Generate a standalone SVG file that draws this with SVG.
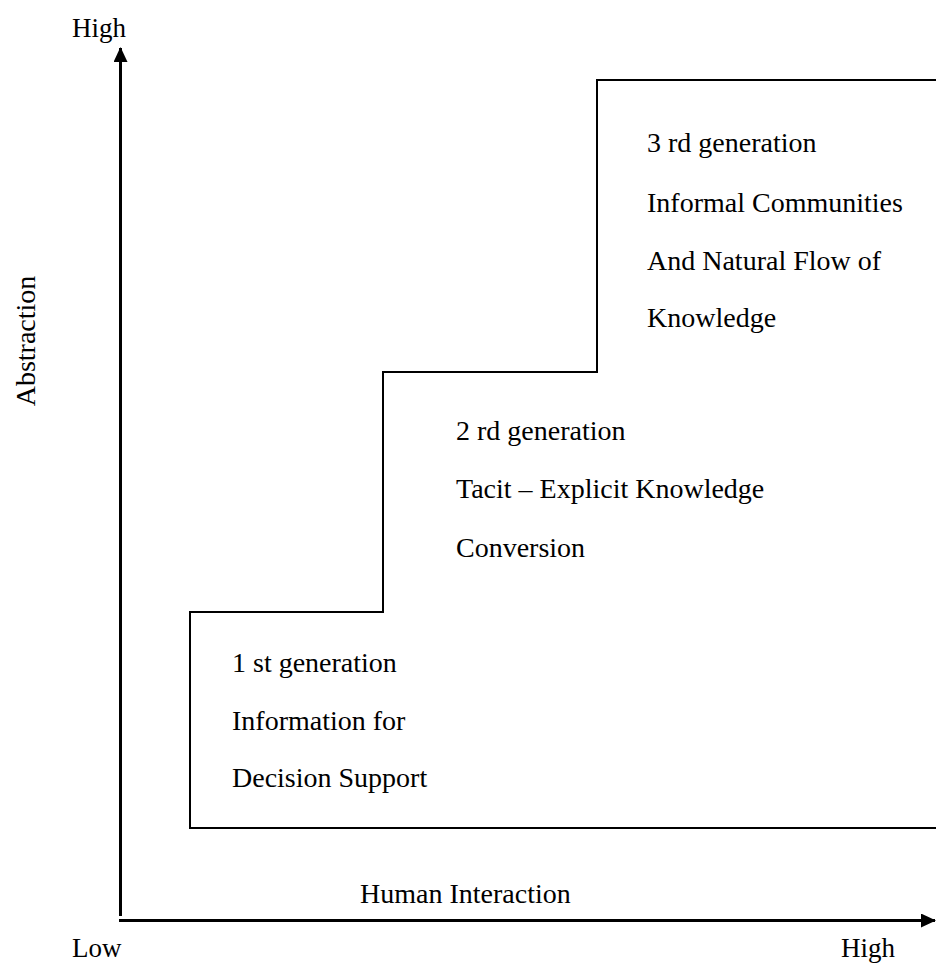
<svg xmlns="http://www.w3.org/2000/svg" width="942" height="965" viewBox="0 0 942 965">
  <style>
    text { font-family: "Liberation Serif", "Times New Roman", serif; font-size: 28px; fill: #000; }
    .axis-label { font-size: 27px; }
    .axis { stroke: #000; stroke-width: 3; fill: none; }
    .stair { stroke: #000; stroke-width: 2; fill: none; }
  </style>
  <defs>
    <marker id="arrow" viewBox="0 0 15 14" refX="14" refY="7" markerWidth="15" markerHeight="14" markerUnits="userSpaceOnUse" orient="auto">
      <path d="M0,0 L15,7 L0,14 Z" fill="#000"/>
    </marker>
  </defs>

  <rect width="942" height="965" fill="#fff"/>

  <!-- axes -->
  <g id="connectors">
    <line class="axis" x1="120.5" y1="916" x2="120.5" y2="48" marker-end="url(#arrow)"/>
    <line class="axis" x1="119" y1="920.5" x2="935" y2="920.5" marker-end="url(#arrow)"/>
  </g>

  <!-- axis labels -->
  <g id="axis-labels">
    <text class="axis-label" x="72" y="37">High</text>
    <text class="axis-label" x="72" y="957">Low</text>
    <text class="axis-label" x="841" y="957">High</text>
    <text x="360" y="903">Human Interaction</text>
    <text x="0" y="0" text-anchor="middle" transform="translate(35,341) rotate(-90)">Abstraction</text>
  </g>

  <!-- staircase outline -->
  <g id="staircase">
    <path class="stair" d="M936,828 H190 V612 H383 V372 H597 V80 H936"/>
  </g>

  <g id="gen1">
    <text x="232" y="672">1 st generation</text>
    <text x="232" y="730">Information for</text>
    <text x="232" y="787">Decision Support</text>
  </g>

  <g id="gen2">
    <text x="456" y="440">2 rd generation</text>
    <text x="456" y="498">Tacit – Explicit Knowledge</text>
    <text x="456" y="557">Conversion</text>
  </g>

  <g id="gen3">
    <text x="647" y="152">3 rd generation</text>
    <text x="647" y="212">Informal Communities</text>
    <text x="647" y="270">And Natural Flow of</text>
    <text x="647" y="327">Knowledge</text>
  </g>
</svg>
